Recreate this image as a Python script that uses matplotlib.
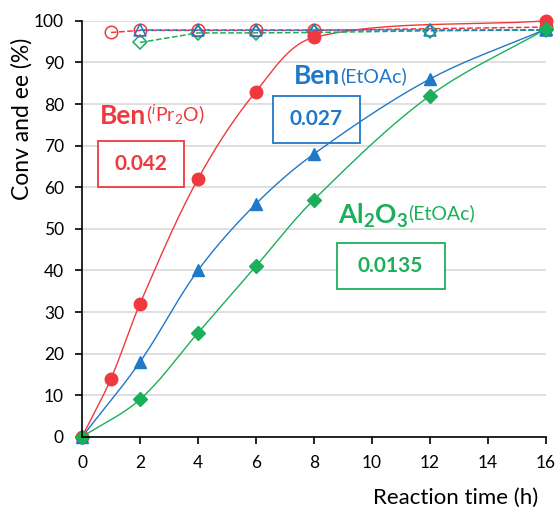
import matplotlib.pyplot as plt
from matplotlib.patches import Rectangle
import numpy as np

plt.rcParams['font.family'] = ['Lato', 'DejaVu Sans']
plt.rcParams['mathtext.fontset'] = 'custom'
plt.rcParams['mathtext.rm'] = 'Lato'
plt.rcParams['mathtext.it'] = 'Lato:italic'
plt.rcParams['mathtext.bf'] = 'Lato:bold'

RED = '#EE3A3E'
BLUE = '#1F78C8'
GREEN = '#1BAF5A'

# conversion (%)
t_red = [0, 1, 2, 4, 6, 8, 16]
conv_red = [0, 14, 32, 62, 83, 96, 100]
t_blue = [0, 2, 4, 6, 8, 12, 16]
conv_blue = [0, 18, 40, 56, 68, 86, 98]
t_green = [0, 2, 4, 6, 8, 12, 16]
conv_green = [0, 9, 25, 41, 57, 82, 98]

# ee (%)
t_ee_red = [1, 2, 4, 6, 8, 16]
ee_red = [97.2, 97.7, 97.7, 97.7, 97.7, 98.5]
t_ee_blue = [2, 4, 6, 8, 12, 16]
ee_blue = [97.8, 97.8, 97.8, 97.8, 97.8, 97.8]
t_ee_green = [2, 4, 6, 8, 12, 16]
ee_green = [94.8, 97.1, 97.1, 97.2, 97.6, 97.8]


def smooth(x, y, n=40):
    # smoothed line through the points (cubic Bezier, non-uniform tangents)
    sc = np.array([29.0, 4.16])
    p = np.column_stack([x, y]).astype(float) * sc
    p = np.vstack([p[0], p, p[-1]])
    L = np.r_[np.hypot(*np.diff(p, axis=0).T)]
    out = []
    s = np.linspace(0, 1, n)[:, None]
    for i in range(1, len(p) - 2):
        p0, p3 = p[i], p[i + 1]
        li = L[i]
        a = li / max(L[i - 1] + li, 1e-9)
        b = li / max(li + L[i + 1], 1e-9)
        c1 = p0 + (p[i + 1] - p[i - 1]) * a / 3
        c2 = p3 - (p[i + 2] - p[i]) * b / 3
        seg = ((1 - s) ** 3 * p0 + 3 * (1 - s) ** 2 * s * c1
               + 3 * (1 - s) * s ** 2 * c2 + s ** 3 * p3)
        out.append(seg)
    out = np.vstack(out) / sc
    return out[:, 0], out[:, 1]


fig = plt.figure(figsize=(5.58, 5.08), dpi=100)
ax = fig.add_axes([0.147, 0.140, 0.831, 0.819])

for t, c, col in [(t_blue, conv_blue, BLUE), (t_green, conv_green, GREEN), (t_red, conv_red, RED)]:
    sx, sy = smooth(t, c)
    ax.plot(sx, sy, color=col, lw=1.0, clip_on=False)

ax.plot(t_ee_green, ee_green, '--', color=GREEN, lw=1.1, marker='D', ms=7.5,
        mfc='none', mec=GREEN, mew=1.1, clip_on=False)
ax.plot(t_ee_red, ee_red, '--', color=RED, lw=1.1, marker='o', ms=9,
        mfc='none', mec=RED, mew=1.1, clip_on=False)
ax.plot(t_ee_blue, ee_blue, '--', color=BLUE, lw=1.1, marker='^', ms=9,
        mfc='none', mec=BLUE, mew=1.1, clip_on=False)

ax.plot(t_red, conv_red, 'o', color=RED, ms=9, clip_on=False)
ax.plot(t_blue, conv_blue, '^', color=BLUE, ms=9, clip_on=False)
ax.plot(t_green, conv_green, 'D', color=GREEN, ms=7.5, clip_on=False)

ax.set_xlim(0, 16)
ax.set_ylim(0, 100)
ax.set_xticks(range(0, 17, 2))
ax.set_yticks(range(0, 101, 10))
ax.tick_params(labelsize=12.5, length=5, width=1.2, direction='out', pad=8)
ax.grid(axis='y', color='#d9d9d9', lw=1.2)
ax.set_axisbelow(True)
for s in ['top', 'right']:
    ax.spines[s].set_visible(False)
for s in ['left', 'bottom']:
    ax.spines[s].set_linewidth(1.2)

ax.set_ylabel('Conv and ee (%)', fontsize=16.5)
ax.yaxis.set_label_coords(-0.106, 0.765)
ax.set_xlabel('Reaction time (h)', fontsize=16, loc='right')
ax.xaxis.set_label_coords(0.983, -0.122)

# annotations
t1 = ax.text(0.62, 77.2, 'Ben', color=RED, fontsize=19, fontweight='bold', va='center')
ax.annotate(r'($^i$Pr$_2$O)', xy=(1, 0), xycoords=t1, xytext=(0, 4), textcoords='offset points',
            color=RED, fontsize=14, va='baseline')
ax.add_patch(Rectangle((0.55, 60.1), 2.97, 11.1, fc='white', ec=RED, lw=1.3))
ax.text(2.03, 65.6, '0.042', color=RED, fontsize=15, fontweight='bold', ha='center', va='center')

t2 = ax.text(7.31, 86.8, 'Ben', color=BLUE, fontsize=19, fontweight='bold', va='center')
ax.annotate('(EtOAc)', xy=(1, 0), xycoords=t2, xytext=(0, 4), textcoords='offset points',
            color=BLUE, fontsize=14, va='baseline')
ax.add_patch(Rectangle((6.59, 70.7), 3.0, 11.3, fc='white', ec=BLUE, lw=1.3))
ax.text(8.09, 76.3, '0.027', color=BLUE, fontsize=15, fontweight='bold', ha='center', va='center')

t3 = ax.text(8.83, 53.1, r'$\mathbf{Al_2O_3}$', color=GREEN, fontsize=19, va='center')
ax.annotate('(EtOAc)', xy=(1, 0), xycoords=t3, xytext=(0, 6), textcoords='offset points',
            color=GREEN, fontsize=14, va='bottom')
ax.add_patch(Rectangle((8.79, 35.6), 3.73, 11.0, fc='white', ec=GREEN, lw=1.3))
ax.text(10.65, 41.1, '0.0135', color=GREEN, fontsize=15, fontweight='bold', ha='center', va='center')

fig.savefig('out.png', dpi=100)
